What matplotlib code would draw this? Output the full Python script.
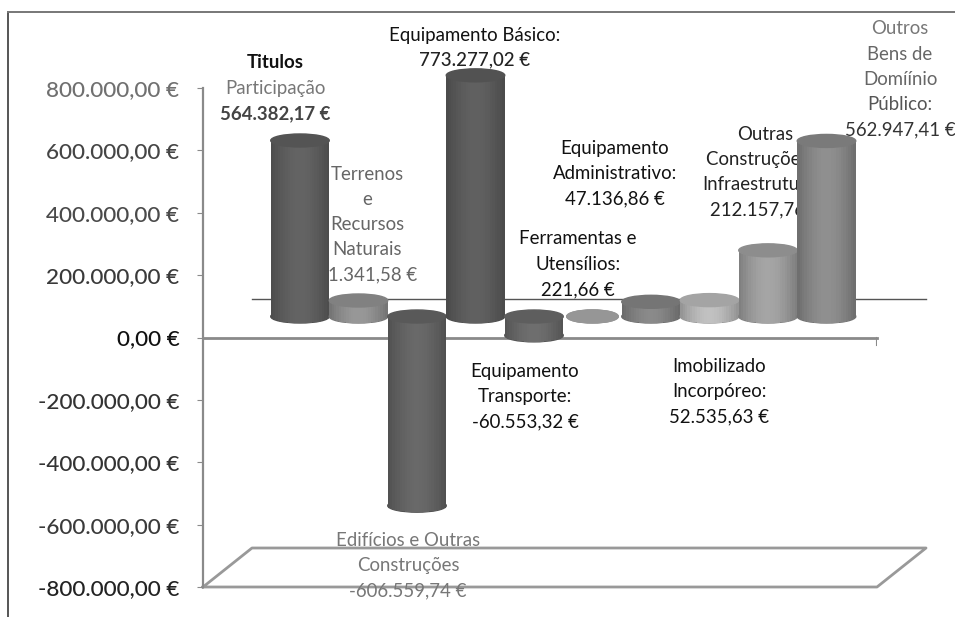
import matplotlib
matplotlib.use('Agg')
import matplotlib.pyplot as plt
from matplotlib.lines import Line2D
from matplotlib.patches import Ellipse
import numpy as np

values = [564382.17, 51341.58, -606559.74, 773277.02, -60553.32,
          221.66, 47136.86, 52535.63, 212157.76, 562947.41]
bar_grays = [0.36, 0.55, 0.38, 0.35, 0.40, 0.64, 0.50, 0.70, 0.60, 0.52]
bar_widths = [1.0, 1.0, 1.0, 1.0, 1.0, 0.88, 1.0, 1.0, 1.0, 1.0]

tick_values = [800000, 600000, 400000, 200000, 0, -200000, -400000, -600000, -800000]
tick_labels = ['800.000,00 €', '600.000,00 €', '400.000,00 €', '200.000,00 €', '0,00 €',
               '-200.000,00 €', '-400.000,00 €', '-600.000,00 €', '-800.000,00 €']
tick_colors = ['#707070', '#454545', '#4a4a4a', '#3a3a3a', '#111111',
               '#333333', '#333333', '#3a3a3a', '#222222']

W, H = 955, 617
euro_per_px = 1600000 / 499
depth = 21 * euro_per_px
floor_depth = 39 * euro_per_px
ell_h = 13 * euro_per_px

plt.rcParams['font.family'] = ['Lato', 'DejaVu Sans']

fig = plt.figure(figsize=(W / 100, H / 100), dpi=100)
ax = fig.add_axes([203 / W, 1 - 587 / H, 674 / W, 499 / H])
ax.set_ylim(-800000, 800000)
ax.set_xlim(-(300 - 203) / 58.5, (877 - 300) / 58.5)
ax.patch.set_alpha(0)

for s in ['top', 'right']:
    ax.spines[s].set_visible(False)
ax.spines['left'].set_color('#8a8a8a')
ax.spines['left'].set_linewidth(1.6)
ax.spines['bottom'].set_position(('data', 0))
ax.spines['bottom'].set_color('#8a8a8a')
ax.spines['bottom'].set_linewidth(2)
for s in ax.spines.values():
    s.set_zorder(1)
ax.set_xticks([])
ax.set_yticks(tick_values)
ax.set_yticklabels(tick_labels, fontsize=16.2, fontweight='medium')
ax.tick_params(axis='y', length=4, color='#8a8a8a', pad=13)
for lab, c in zip(ax.get_yticklabels(), tick_colors):
    lab.set_color(c)

# floor and back edge
x0, x1 = ax.get_xlim()
shift = 49 / 58.5
bottom = -800000
ax.plot([x0, x0 + shift, x1 + shift, x1, x0],
        [bottom, bottom + floor_depth, bottom + floor_depth, bottom, bottom],
        color='#999999', lw=2, clip_on=False, zorder=1)
ax.plot([x1, x1], [0, -25000], color='#8a8a8a', lw=1.5, zorder=1)
ax.plot([x0 + shift, x1 + shift], [floor_depth, floor_depth],
        color='#555555', lw=1, clip_on=False, zorder=1)

# cylinders, left to right, each one in front of the last
n_strips = 24
for i, (v, g, bw) in enumerate(zip(values, bar_grays, bar_widths)):
    z = 3 + i
    end = depth + v
    low = min(depth, end)
    high = max(depth, end)
    ax.add_patch(Ellipse((i, low), bw, ell_h, color=str(g * 0.85), zorder=z, clip_on=False))
    edges = np.linspace(-bw / 2, bw / 2, n_strips + 1)
    for a, b in zip(edges[:-1], edges[1:]):
        t = (a + b) / 2 / bw + 0.5
        shade = min(1, g * (0.82 + 0.26 * np.sin(np.pi * t)))
        half_chord = np.sqrt(max(0, 1 - (2 * (a + b) / 2 / bw) ** 2)) * ell_h / 2
        ax.bar((a + b) / 2 + i, high - low + half_chord, width=(b - a) * 1.15,
               bottom=low - half_chord, color=str(shade), zorder=z, clip_on=False, linewidth=0)
    ax.add_patch(Ellipse((i, high), bw, ell_h, color=str(min(1, g * 0.92)), zorder=z, clip_on=False))

# data labels: x, first line y, lines, colours, weights
labels = [
    (275, 63, ['Titulos', 'Participação', '564.382,17 €'], ['#111111', '#777777', '#444444'], ['bold', 'normal', 'bold']),
    (367, 174, ['Terrenos', 'e', 'Recursos', 'Naturais', '51.341,58 €'], ['#666666'] * 5, ['normal'] * 5),
    (475, 35, ['Equipamento Básico:', '773.277,02 €'], ['#111111', '#222222'], ['normal', 'medium']),
    (615, 148, ['Equipamento', 'Administrativo:', '47.136,86 €'], ['#111111'] * 3, ['normal'] * 3),
    (578, 239, ['Ferramentas e', 'Utensílios:', '221,66 €'], ['#111111'] * 3, ['normal'] * 3),
    (765, 134, ['Outras', 'Construções e', 'Infraestruturas:', '212.157,76 €'], ['#222222'] * 4, ['normal'] * 4),
    (900, 29, ['Outros', 'Bens de', 'Domíínio', 'Público:', '562.947,41 €'],
     ['#777777', '#666666', '#666666', '#555555', '#333333'], ['normal'] * 5),
    (525, 371, ['Equipamento', 'Transporte:', '-60.553,32 €'], ['#111111'] * 3, ['normal'] * 3),
    (719, 366, ['Imobilizado', 'Incorpóreo:', '52.535,63 €'], ['#111111'] * 3, ['normal'] * 3),
    (408, 540, ['Edifícios e Outras', 'Construções', '-606.559,74 €'], ['#777777'] * 3, ['normal'] * 3),
]
for x, y, lines, cols, weights in labels:
    for k, (line, c, w) in enumerate(zip(lines, cols, weights)):
        ax.text(x / W, 1 - (y + k * 25.3) / H, line, transform=fig.transFigure, color=c,
                fontweight=w, fontsize=13.4, ha='center', va='center', zorder=2, clip_on=False)

# scanned frame
fig.add_artist(Line2D([8 / W, 8 / W], [0, 1 - 12 / H], color='#555555', lw=1.4))
fig.add_artist(Line2D([8 / W, 1], [1 - 12 / H, 1 - 12 / H], color='#777777', lw=1.4))

fig.savefig('out.png', dpi=100)
